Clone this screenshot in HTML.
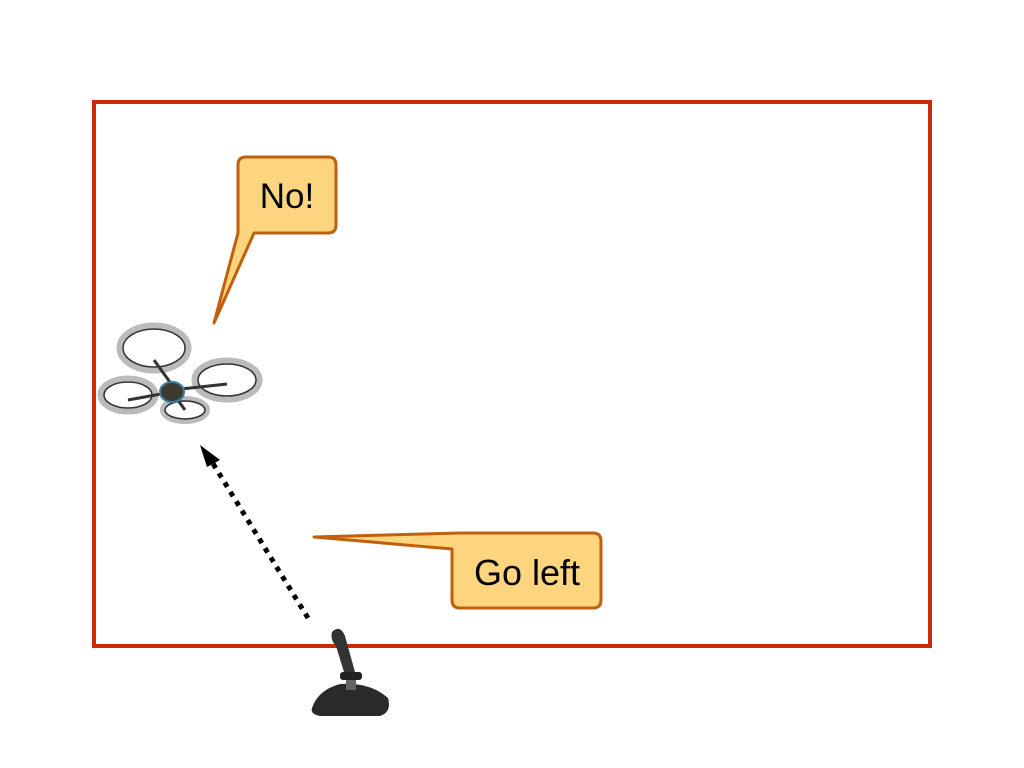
<!DOCTYPE html>
<html><head><style>body{margin:0;background:#fff}svg{display:block}</style></head><body>
<svg width="1024" height="768" viewBox="0 0 1024 768" xmlns="http://www.w3.org/2000/svg">
<rect x="94" y="102" width="836" height="544" fill="none" stroke="#cc2a0a" stroke-width="4"/>
<!-- No! bubble -->
<path d="M246,157 H328 Q336,157 336,165 V225 Q336,233 328,233 H254 L214,323 L238,233 V165 Q238,157 246,157 Z" fill="#fdd57e" stroke="#c0600e" stroke-width="3" stroke-linejoin="round"/>
<text x="287" y="208" font-family="Liberation Sans, sans-serif" font-size="35" text-anchor="middle" fill="#000">No!</text>
<!-- Go left bubble -->
<path d="M460,533 H593 Q601,533 601,541 V600 Q601,608 593,608 H460 Q452,608 452,600 V549 L314,537 L460,533 Z" fill="#fdd57e" stroke="#c0600e" stroke-width="3" stroke-linejoin="round"/>
<text x="527" y="585" font-family="Liberation Sans, sans-serif" font-size="36" text-anchor="middle" fill="#000">Go left</text>
<!-- dotted arrow -->
<line x1="308" y1="618" x2="212" y2="462" stroke="#000" stroke-width="5" stroke-dasharray="5,6"/>
<polygon points="200,445 220,460 207,467" fill="#000"/>
<!-- drone -->
<g fill="none">
<ellipse cx="154" cy="348" rx="34" ry="22" stroke="#bbb" stroke-width="7"/>
<ellipse cx="154" cy="348" rx="31" ry="19" stroke="#333" stroke-width="1.5"/>
<ellipse cx="227" cy="380" rx="32" ry="19" stroke="#bbb" stroke-width="7"/>
<ellipse cx="227" cy="380" rx="29" ry="16" stroke="#333" stroke-width="1.5"/>
<ellipse cx="128" cy="395" rx="27" ry="16" stroke="#bbb" stroke-width="7"/>
<ellipse cx="128" cy="395" rx="24" ry="13" stroke="#333" stroke-width="1.5"/>
<ellipse cx="185" cy="410" rx="22" ry="11" stroke="#bbb" stroke-width="6"/>
<ellipse cx="185" cy="410" rx="20" ry="9" stroke="#333" stroke-width="1.5"/>
<path d="M154,360 L172,385 M227,384 L172,390 M128,400 L172,392 M185,410 L172,392" stroke="#333" stroke-width="3"/>
</g>
<ellipse cx="172" cy="392" rx="12" ry="10" fill="#3d3a30" stroke="#3a7aa0" stroke-width="2"/>
<!-- joystick -->
<path d="M312,708 Q318,690 340,684 Q370,682 388,698 Q392,712 380,716 L320,716 Q310,714 312,708 Z" fill="#2a2a2a"/>
<rect x="340" y="672" width="22" height="8" rx="3" fill="#222"/>
<rect x="346" y="680" width="10" height="10" fill="#666"/>
<path d="M332,632 Q340,624 345,636 L355,672 L344,672 L336,646 Q330,640 332,632 Z" fill="#333"/>
</svg>
</body></html>
